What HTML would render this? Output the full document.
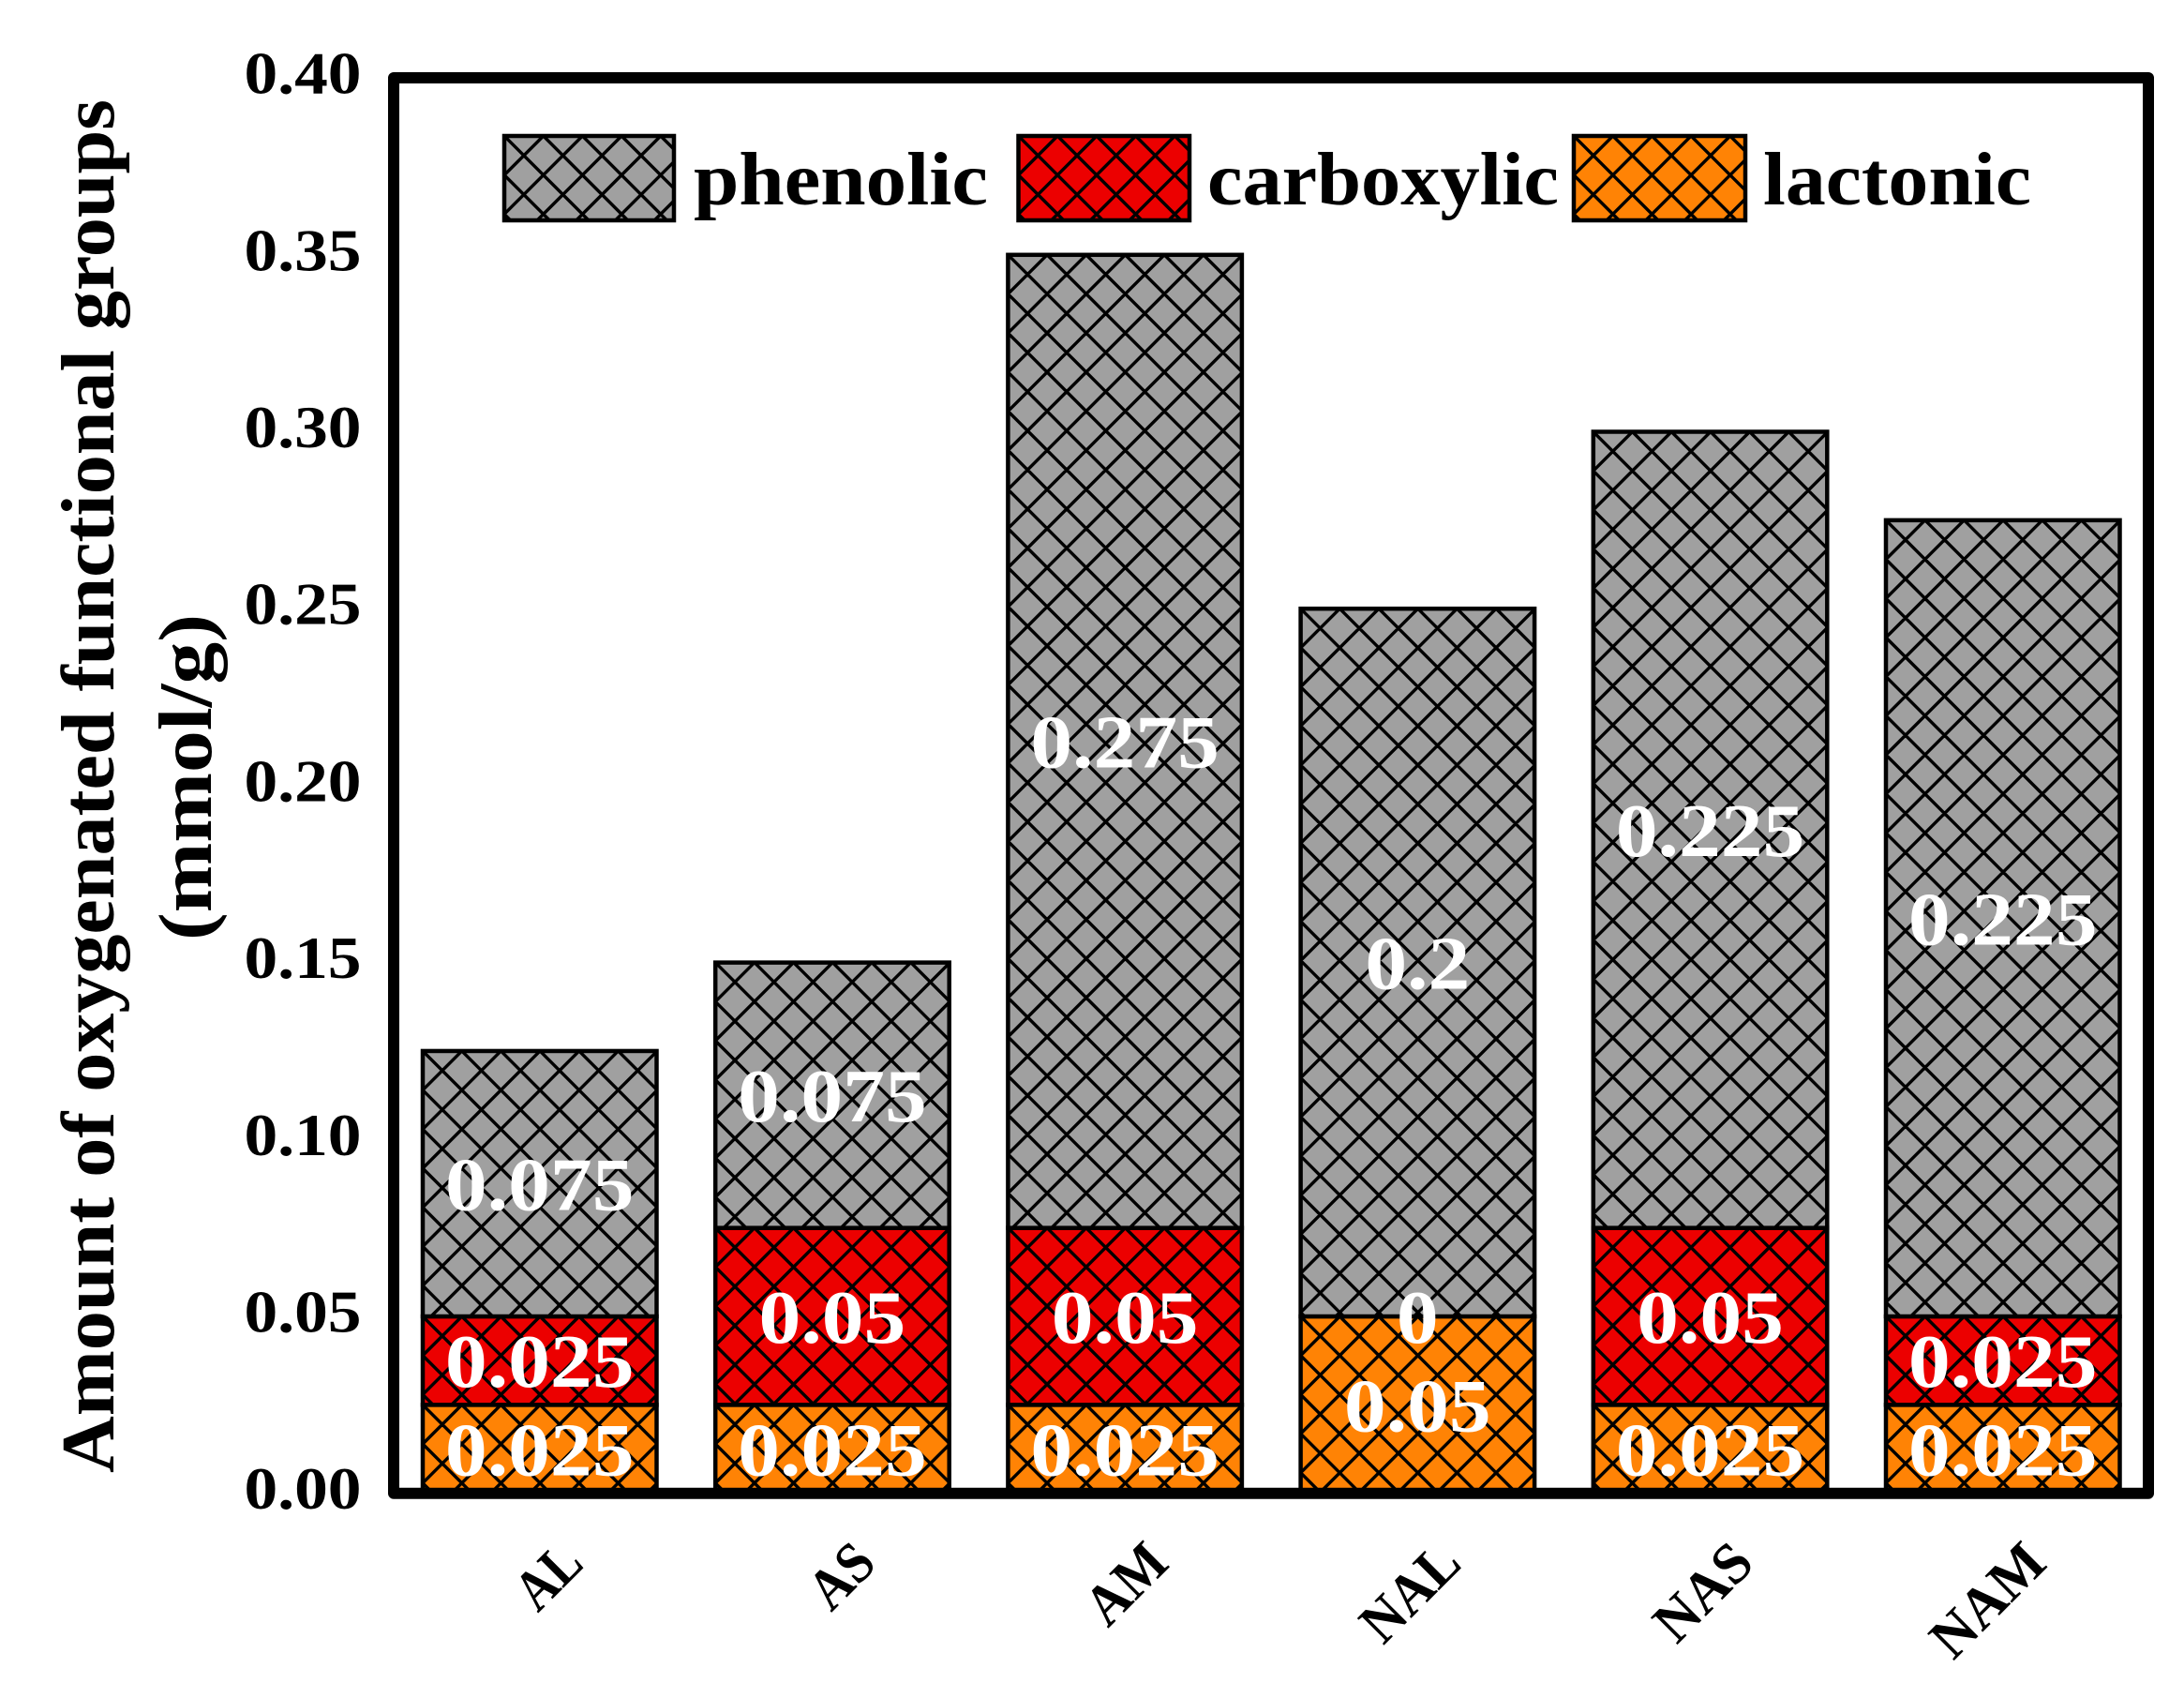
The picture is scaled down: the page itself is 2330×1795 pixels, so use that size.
<!DOCTYPE html>
<html lang="en">
<head>
<meta charset="utf-8">
<title>Amount of oxygenated functional groups</title>
<style>
html,body{margin:0;padding:0;background:#fff;}
#chart{display:block;width:2330px;height:1795px;background:#fff;}
text{font-family:"Liberation Serif",serif;font-weight:bold;}
</style>
</head>
<body>
<svg id="chart" xmlns="http://www.w3.org/2000/svg" width="2330" height="1795" viewBox="0 0 2330 1795">
  <rect x="0" y="0" width="2330" height="1795" fill="#ffffff"/>
  <defs id="clips"></defs>
  <g id="bars"></g>
  <g id="value-labels"></g>
  <rect x="420" y="83" width="1872" height="1509.7" fill="none" stroke="#000" stroke-width="12" stroke-linejoin="round"/>
  <g id="y-ticks"></g>
  <g id="x-ticks"></g>
  <text transform="translate(121,1571) rotate(-90)" font-size="80" fill="#000" textLength="1465" lengthAdjust="spacingAndGlyphs">Amount of oxygenated functional groups</text>
  <text transform="translate(225,1003) rotate(-90)" font-size="80" fill="#000" textLength="348" lengthAdjust="spacingAndGlyphs">(mmol/g)</text>
  <g id="legend">
    <g id="legend-swatches"></g>
    <text x="740" y="218" font-size="80" fill="#000" textLength="314" lengthAdjust="spacingAndGlyphs">phenolic</text>
    <text x="1288" y="218" font-size="80" fill="#000" textLength="375" lengthAdjust="spacingAndGlyphs">carboxylic</text>
    <text x="1881" y="218" font-size="80" fill="#000" textLength="286" lengthAdjust="spacingAndGlyphs">lactonic</text>
  </g>
</svg>
<script>
var categories = ['AL', 'AS', 'AM', 'NAL', 'NAS', 'NAM'];
var lactonic = [0.025, 0.025, 0.025, 0.05, 0.025, 0.025];
var carboxylic = [0.025, 0.05, 0.05, 0, 0.05, 0.025];
var phenolic = [0.075, 0.075, 0.275, 0.2, 0.225, 0.225];
var yTicks = [0, 0.05, 0.10, 0.15, 0.20, 0.25, 0.30, 0.35, 0.40];

var NS = 'http://www.w3.org/2000/svg';
var clipCount = 0;

function yScale(v) { return 1592.7 - 3774 * v; }
function xBarLeft(i) { return 451 + 312.2 * i; }
var barWidth = 249.5;
var hatchStep = 41.7;

function make(tag, attrs, parent) {
  var el = document.createElementNS(NS, tag);
  for (var k in attrs) { el.setAttribute(k, attrs[k]); }
  parent.appendChild(el);
  return el;
}

function hatchPath(x, y, w, h) {
  var d = '';
  var n = Math.ceil((w + h) / hatchStep) + 1;
  for (var k = -n; k <= n; k++) {
    var sx = x + k * hatchStep;
    d += 'M' + sx + ' ' + y + 'L' + (sx + h) + ' ' + (y + h);
    d += 'M' + sx + ' ' + y + 'L' + (sx - h) + ' ' + (y + h);
  }
  return d;
}

function drawHatchedBox(parent, name, x, y, w, h, color) {
  var group = make('g', {}, parent);
  
  
  if (h <= 0) { return group; }
  var id = 'clip-' + (clipCount++);
  var clip = make('clipPath', { id: id }, document.getElementById('clips'));
  make('rect', { x: x, y: y, width: w, height: h }, clip);
  var fill = make('rect', { x: x, y: y, width: w, height: h, fill: color }, group);
  
  
  var hatch = make('path', { d: hatchPath(x, y, w, h), stroke: '#000', 'stroke-width': 3.4, fill: 'none', 'clip-path': 'url(#' + id + ')' }, group);
  
  
  var border = make('rect', { x: x, y: y, width: w, height: h, fill: 'none', stroke: '#000', 'stroke-width': 4.5 }, group);
  
  
  return group;
}

function labelWidth(str) {
  var natural = 0;
  for (var i = 0; i < str.length; i++) {
    natural += str.charAt(i) === '.' ? 20 : 40;
  }
  return natural * 1.12;
}

var seriesNames = ['lactonic', 'carboxylic', 'phenolic'];
var seriesColors = ['#ff8305', '#ec0000', '#a0a0a0'];
var seriesValues = [lactonic, carboxylic, phenolic];

var barsLayer = document.getElementById('bars');
var labelsLayer = document.getElementById('value-labels');

categories.forEach(function (cat, i) {
  var base = 0;
  seriesValues.forEach(function (vals, s) {
    var v = vals[i];
    var top = base + v;
    var yTop = yScale(top);
    var yBottom = yScale(base);
    drawHatchedBox(barsLayer, 'bar-' + cat.toLowerCase() + '-' + seriesNames[s], xBarLeft(i), yTop, barWidth, yBottom - yTop, seriesColors[s]);
    base = top;
  });
});

categories.forEach(function (cat, i) {
  var base = 0;
  seriesValues.forEach(function (vals, s) {
    var v = vals[i];
    var str = String(v);
    var label = make('text', {
      x: xBarLeft(i) + barWidth / 2,
      y: yScale(base + v / 2) + 28,
      'font-size': 80,
      fill: '#fff',
      'text-anchor': 'middle',
      textLength: labelWidth(str),
      lengthAdjust: 'spacingAndGlyphs'
    }, labelsLayer);
    
    
    label.textContent = str;
    base += v;
  });
});

var yTickLayer = document.getElementById('y-ticks');
yTicks.forEach(function (t) {
  var tick = make('text', {
    x: 260.5,
    y: yScale(t) + 16.5,
    'font-size': 64,
    fill: '#000',
    textLength: 125,
    lengthAdjust: 'spacingAndGlyphs'
  }, yTickLayer);
  
  
  tick.textContent = t.toFixed(2);
});

var capWidths = { A: 39, L: 33, N: 49, S: 32, M: 56 };
var xTickLayer = document.getElementById('x-ticks');
categories.forEach(function (cat, i) {
  var w = 0;
  for (var c = 0; c < cat.length; c++) { w += capWidths[cat.charAt(c)]; }
  var ex = xBarLeft(i) + barWidth / 2 + 49;
  var lab = make('text', {
    transform: 'translate(' + ex + ',1670) rotate(-45)',
    'font-size': 62,
    fill: '#000',
    'text-anchor': 'end',
    textLength: w,
    lengthAdjust: 'spacingAndGlyphs'
  }, xTickLayer);
  
  
  lab.textContent = cat;
});

var swatchLayer = document.getElementById('legend-swatches');
drawHatchedBox(swatchLayer, 'legend-swatch-phenolic', 538, 145, 181, 90, '#a0a0a0');
drawHatchedBox(swatchLayer, 'legend-swatch-carboxylic', 1086.5, 145, 182.5, 90, '#ec0000');
drawHatchedBox(swatchLayer, 'legend-swatch-lactonic', 1679, 145, 183, 90, '#ff8305');
</script>
</body>
</html>
